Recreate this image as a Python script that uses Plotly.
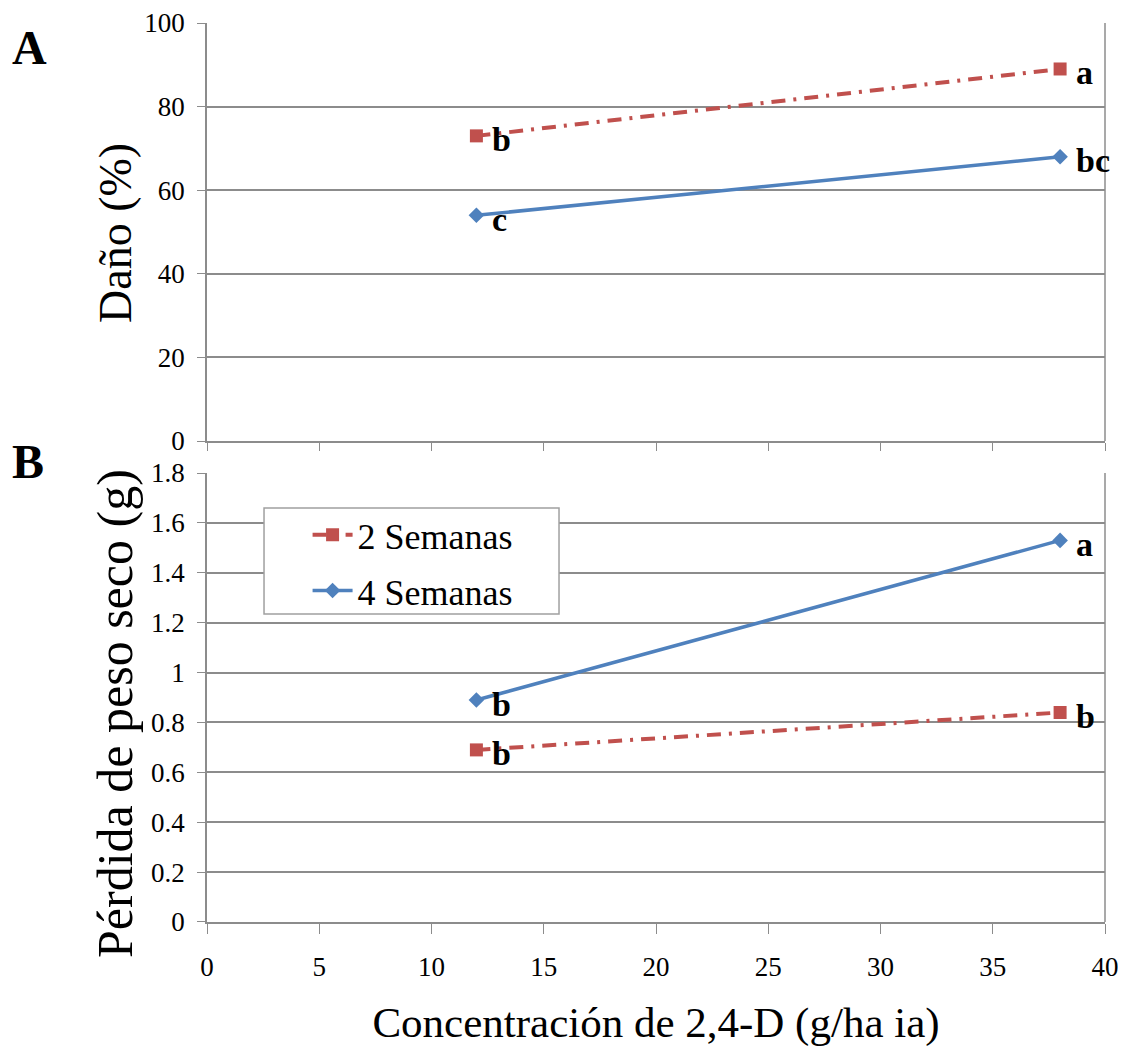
import plotly.graph_objects as go

conc = [12, 38]
dano_2sem = [73, 89]
dano_4sem = [54, 68]
peso_2sem = [0.69, 0.84]
peso_4sem = [0.89, 1.53]
lbl_dano_2sem = ["b", "a"]
lbl_dano_4sem = ["c", "bc"]
lbl_peso_2sem = ["b", "b"]
lbl_peso_4sem = ["b", "a"]

RED = "#C0504D"
BLUE = "#4F81BD"
FONT = "Liberation Serif"
DASHDOT = "14px,8px,3px,8px"
GRID = "#8C8C8C"

fig = go.Figure()

fig.add_trace(go.Scatter(x=conc, y=dano_4sem, mode="lines+markers", xaxis="x", yaxis="y",
                         line=dict(color=BLUE, width=3.5), marker=dict(symbol="diamond", size=12, color=BLUE),
                         showlegend=False))
fig.add_trace(go.Scatter(x=conc, y=dano_2sem, mode="lines+markers", xaxis="x", yaxis="y",
                         line=dict(color=RED, width=4, dash=DASHDOT), marker=dict(symbol="square", size=13, color=RED),
                         showlegend=False))
fig.add_trace(go.Scatter(x=conc, y=peso_2sem, mode="lines+markers", xaxis="x2", yaxis="y2", name="2 Semanas",
                         legendgroup="g2",
                         line=dict(color=RED, width=4, dash=DASHDOT), marker=dict(symbol="square", size=13, color=RED)))
fig.add_trace(go.Scatter(x=conc, y=peso_4sem, mode="lines+markers", xaxis="x2", yaxis="y2", name="4 Semanas",
                         legendgroup="g4",
                         line=dict(color=BLUE, width=3.5), marker=dict(symbol="diamond", size=12, color=BLUE)))

ann = []
def add_labels(xs, ys, labels, xref, yref):
    for x, y, t in zip(xs, ys, labels):
        ann.append(dict(x=x, y=y, xref=xref, yref=yref, text="<b>%s</b>" % t, showarrow=False,
                        xanchor="left", yanchor="middle", xshift=14, yshift=-4,
                        font=dict(family=FONT, size=34, color="black")))

add_labels(conc, dano_2sem, lbl_dano_2sem, "x", "y")
add_labels(conc, dano_4sem, lbl_dano_4sem, "x", "y")
add_labels(conc, peso_2sem, lbl_peso_2sem, "x2", "y2")
add_labels(conc, peso_4sem, lbl_peso_4sem, "x2", "y2")

ann.append(dict(x=-0.219, y=1.0, xref="paper", yref="paper", text="<b>A</b>", showarrow=False,
                xanchor="left", yanchor="middle", yshift=-24, font=dict(family=FONT, size=48, color="black")))
ann.append(dict(x=-0.219, y=0.535, xref="paper", yref="paper", text="<b>B</b>", showarrow=False,
                xanchor="left", yanchor="middle", yshift=-20, font=dict(family=FONT, size=48, color="black")))
# axis titles
ann.append(dict(x=-0.1025, y=0.7664, xref="paper", yref="paper", text="Daño (%)", showarrow=False,
                textangle=-90, xanchor="center", yanchor="middle",
                font=dict(family=FONT, size=46, color="black")))
ann.append(dict(x=-0.1025, y=0.2325, xref="paper", yref="paper", text="Pérdida de peso seco (g)", showarrow=False,
                textangle=-90, xanchor="center", yanchor="middle",
                font=dict(family=FONT, size=50, color="black")))

axis_common = dict(showline=True, linecolor=GRID, linewidth=1.5, mirror=False, automargin=False,
                   tickfont=dict(family=FONT, size=27, color="black"))

fig.update_layout(
    width=1126, height=1054,
    margin=dict(l=199, r=29, t=15, b=140),
    paper_bgcolor="white", plot_bgcolor="white",
    font=dict(family=FONT, color="black", size=27),
    annotations=ann,
    xaxis=dict(domain=[0, 1], anchor="y", range=[0, 40], dtick=5, showticklabels=False,
               ticks="outside", ticklen=8, tickcolor=GRID, showgrid=False, **axis_common),
    yaxis=dict(domain=[0.535, 1], anchor="x", range=[0, 100], dtick=20, ticks="outside", ticklen=8,
               ticklabelstandoff=7,
               tickcolor=GRID, showgrid=True, gridcolor=GRID, gridwidth=1.5, **axis_common),
    xaxis2=dict(domain=[0, 1], anchor="y2", range=[0, 40], dtick=5, ticks="outside", ticklen=10,
                ticklabelstandoff=10,
                tickcolor=GRID, showgrid=False,
                title=dict(text="Concentración de 2,4-D (g/ha ia)", font=dict(family=FONT, size=43), standoff=26),
                **axis_common),
    yaxis2=dict(domain=[0, 0.4994], anchor="x2", range=[0, 1.8], dtick=0.2, ticks="outside", ticklen=8,
                ticklabelstandoff=7,
                tickcolor=GRID, showgrid=True, gridcolor=GRID, gridwidth=1.5, **axis_common),
    legend=dict(x=0.112, y=0.464, xanchor="left", yanchor="top", bgcolor="rgba(0,0,0,0)",
                borderwidth=0, font=dict(family=FONT, size=36),
                tracegroupgap=6, itemwidth=40),
    shapes=[
        dict(type="rect", xref="paper", yref="paper", x0=0.0635, x1=0.392, y0=0.3426, y1=0.4605,
             line=dict(color="#A0A0A0", width=1.5), fillcolor="white", layer="above"),
        dict(type="line", xref="paper", yref="paper", x0=1, x1=1, y0=0.535, y1=1,
             line=dict(color=GRID, width=1.5)),
        dict(type="line", xref="paper", yref="paper", x0=1, x1=1, y0=0, y1=0.4994,
             line=dict(color=GRID, width=1.5)),
    ],
)

fig.write_html("out.html")
